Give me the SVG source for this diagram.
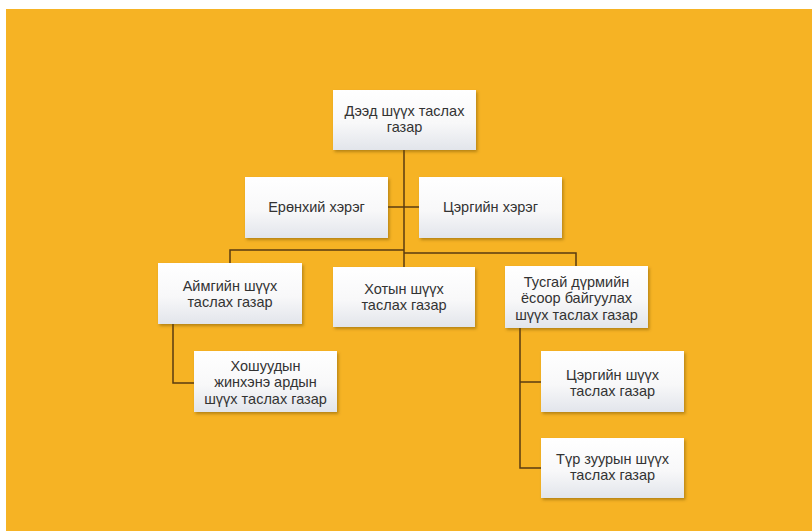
<svg xmlns="http://www.w3.org/2000/svg" width="812" height="531" viewBox="0 0 812 531">
  <defs>
    <linearGradient id="boxGrad" x1="0" y1="0" x2="0" y2="1">
      <stop offset="0" stop-color="#ffffff"/>
      <stop offset="0.55" stop-color="#f8f8f9"/>
      <stop offset="1" stop-color="#e2e5eb"/>
    </linearGradient>
    <filter id="shadow" x="-10%" y="-10%" width="125%" height="130%">
      <feDropShadow dx="1.5" dy="2" stdDeviation="1.5" flood-color="#6b4a00" flood-opacity="0.45"/>
    </filter>
  </defs>
  <style>
    .box { fill: url(#boxGrad); filter: url(#shadow); }
    .lbl { font-family: "Liberation Sans", Arial, sans-serif; font-size: 14.5px; fill: #333333; text-anchor: middle; }
    .conn { fill: none; stroke: #5a3b10; stroke-width: 1.5; }
  </style>
  <rect x="0" y="0" width="812" height="531" fill="#ffffff"/>
  <rect x="6" y="9" width="806" height="522" fill="#F6B324"/>

  <g id="connectors">
    <path class="conn" d="M404,150 V253"/>
    <path class="conn" d="M388,207 H419"/>
    <path class="conn" d="M404,250 H230 V263"/>
    <path class="conn" d="M404,253 H576 V266"/>
    <path class="conn" d="M404,253 V267"/>
    <path class="conn" d="M173,324 V383 H194"/>
    <path class="conn" d="M520,328 V468 H541"/>
    <path class="conn" d="M520,382 H541"/>
  </g>

  <g id="node-supreme">
    <rect class="box" x="333" y="90" width="143" height="60"/>
    <text class="lbl" x="404.5" y="115.75">Дээд шүүх таслах</text>
    <text class="lbl" x="404.5" y="132.25">газар</text>
  </g>
  <g id="node-general">
    <rect class="box" x="245" y="177" width="143" height="61"/>
    <text class="lbl" x="316.5" y="212">Ерөнхий хэрэг</text>
  </g>
  <g id="node-military-case">
    <rect class="box" x="419" y="177" width="143" height="61"/>
    <text class="lbl" x="490.5" y="212">Цэргийн хэрэг</text>
  </g>
  <g id="node-aimag">
    <rect class="box" x="158" y="263" width="144" height="61"/>
    <text class="lbl" x="230" y="290.75">Аймгийн шүүх</text>
    <text class="lbl" x="230" y="307.25">таслах газар</text>
  </g>
  <g id="node-city">
    <rect class="box" x="333" y="267" width="142" height="60"/>
    <text class="lbl" x="404" y="293.75">Хотын шүүх</text>
    <text class="lbl" x="404" y="310.25">таслах газар</text>
  </g>
  <g id="node-special">
    <rect class="box" x="505" y="266" width="143" height="62"/>
    <text class="lbl" x="576.5" y="286.5">Тусгай дүрмийн</text>
    <text class="lbl" x="576.5" y="303">ёсоор байгуулах</text>
    <text class="lbl" x="576.5" y="319.5">шүүх таслах газар</text>
  </g>
  <g id="node-khoshuu">
    <rect class="box" x="194" y="351" width="143" height="61"/>
    <text class="lbl" x="265.5" y="370.5">Хошуудын</text>
    <text class="lbl" x="265.5" y="387">жинхэнэ ардын</text>
    <text class="lbl" x="265.5" y="403.5">шүүх таслах газар</text>
  </g>
  <g id="node-military-court">
    <rect class="box" x="541" y="351" width="143" height="61"/>
    <text class="lbl" x="612.5" y="379.75">Цэргийн шүүх</text>
    <text class="lbl" x="612.5" y="396.25">таслах газар</text>
  </g>
  <g id="node-temporary">
    <rect class="box" x="541" y="438" width="143" height="60"/>
    <text class="lbl" x="612.5" y="463.75">Түр зуурын шүүх</text>
    <text class="lbl" x="612.5" y="480.25">таслах газар</text>
  </g>
</svg>
